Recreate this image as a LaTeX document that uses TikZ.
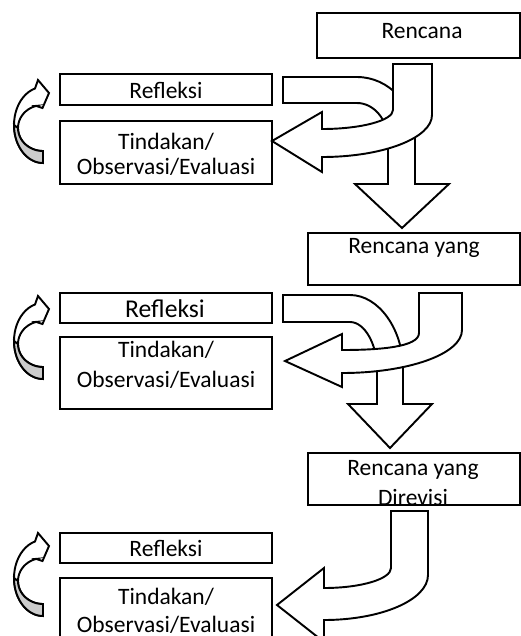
\documentclass[tikz,border=0pt]{standalone}
\usepackage{fontspec}
\setmainfont{Carlito}
\usetikzlibrary{fit}

\begin{document}
\begin{tikzpicture}[
  x=0.468pt,
  y=-0.468pt,
  line width=0.9pt,
  font=\fontsize{11}{13}\selectfont,
  box/.style={draw, inner sep=0pt},
  blockarrow/.style={draw, fill=white},
  backface/.style={draw, fill=gray!40}
]
  \path[use as bounding box, clip] (0,0) rectangle (521,636);

  % plans
  \node[box, fit={(317,13) (520,58)}] (plan1) {};
  \node (plan1t) at (422,31) {Rencana};
  \node[box, fit={(308,233) (520,285)}] (plan2) {};
  \node (plan2t) at (414,248) {Rencana yang};
  \node[box, fit={(308,453) (520,505)}] (plan3) {};
  \node[align=center, font=\fontsize{11}{14}\selectfont] (plan3t) at (413,483) {Rencana yang\\Direvisi};

  % reflection and action boxes
  \node[box, fit={(60,74) (272,105)}] (refl1) {};
  \node (refl1t) at (166,90) {Refleksi};
  \node[box, fit={(60,121) (272,184)}] (act1) {};
  \node[align=center, font=\fontsize{11}{11.7}\selectfont] (act1t) at (166,154.5) {Tindakan/\\Observasi/Evaluasi};

  \node[box, fit={(60,293) (272,323)}] (refl2) {};
  \node[font=\fontsize{12}{14}\selectfont] (refl2t) at (165,309) {Refleksi};
  \node[box, fit={(60,337) (272,409)}] (act2) {};
  \node[align=center, font=\fontsize{11}{14}\selectfont] (act2t) at (166,365) {Tindakan/\\Observasi/Evaluasi};

  \node[box, fit={(60,533) (272,563)}] (refl3) {};
  \node (refl3t) at (166,548) {Refleksi};
  \node[box, fit={(60,578) (272,650)}] (act3) {};
  \node[align=center, font=\fontsize{11}{13.1}\selectfont] (act3t) at (166,611) {Tindakan/\\Observasi/Evaluasi};

  % first cycle
  \draw[blockarrow] (283,77) -- (357,77) .. controls (389,77) and (415,105) .. (415,140)
    -- (415,184) -- (449,184) -- (402,228) -- (355,184) -- (388,184) -- (388,140)
    .. controls (388,120) and (374,103) .. (357,103) -- (283,103) -- cycle;
  \draw[blockarrow] (393,64) -- (432,64) -- (432,115) .. controls (432,138) and (383,157) .. (322,157)
    -- (322,172) -- (272,141) -- (322,112) -- (322,129)
    .. controls (361,129) and (393,120.5) .. (393,110) -- cycle;

  % second cycle
  \draw[blockarrow] (283,295) -- (350,295) .. controls (379,295) and (403,330) .. (403,368)
    -- (403,404) -- (432,404) -- (390,448) -- (348,404) -- (377,404) -- (377,368)
    .. controls (377,345) and (365,322) .. (350,322) -- (283,322) -- cycle;
  \draw[blockarrow] (419,293) -- (462,293) -- (462,330) .. controls (462,354) and (408,373) .. (342,373)
    -- (342,387) -- (285,361) -- (342,334) -- (342,350)
    .. controls (380,350) and (419,347) .. (419,333) -- cycle;

  % third cycle
  \draw[blockarrow] (391,511) -- (428,511) -- (428,575) .. controls (428,600) and (381,620) .. (324,620)
    -- (324,642) -- (277,605) -- (324,568) -- (324,588)
    .. controls (361,588) and (391,579) .. (391,568) -- cycle;

  % curved arrows back to Refleksi
  \foreach \dy in {0,216,453} {
    \begin{scope}[shift={(0,\dy)}]
      \draw[blockarrow] (38,80) -- (49,93) -- (42.5,108) -- (36,105.9)
        -- plot[domain=254:90] ({43+25*cos(\x)},{128+23*sin(\x)})
        -- plot[domain=90:254] ({43+29*cos(\x)},{125+38*sin(\x)}) -- cycle;
      \draw[backface] plot[domain=180:90] ({43+29*cos(\x)},{125+38*sin(\x)})
        -- plot[domain=90:180] ({43+25*cos(\x)},{128+23*sin(\x)}) -- cycle;
    \end{scope}
  }
\end{tikzpicture}
\end{document}
